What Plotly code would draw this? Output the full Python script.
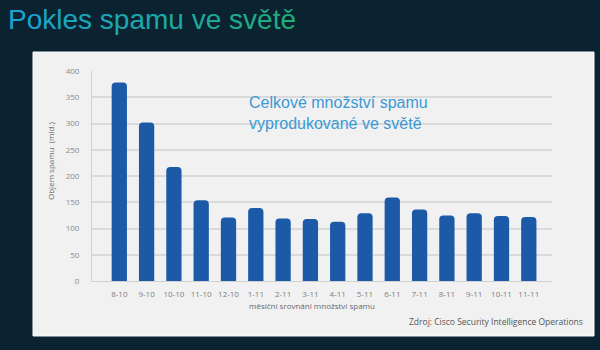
import plotly.graph_objects as go

# Monthly comparison of global spam volume (billions of messages)
months = ["8-10", "9-10", "10-10", "11-10", "12-10", "1-11", "2-11", "3-11",
          "4-11", "5-11", "6-11", "7-11", "8-11", "9-11", "10-11", "11-11"]
spam_volume = [378, 302, 217, 154, 121, 139, 119, 118,
               113, 129, 159, 136, 125, 129, 124, 122]
y_ticks = [0, 50, 100, 150, 200, 250, 300, 350, 400]

title_text = "Pokles spamu ve světě"
note_text = "Celkové množství spamu<br>vyprodukované ve světě"
x_title = "měsíční srovnání množství spamu"
y_title = "Objem spamu  (mld.)"
source_text = "Zdroj: Cisco Security Intelligence Operations"

W, H = 600, 350
L, R, T, B = 92, 48, 71, 69
PW, PH = W - L - R, H - T - B


def px(x):
    return (x - L) / PW


def py(y):
    return (H - B - y) / PH


def gradient_title(text, c0, c1):
    # colour each character along a blue -> green blend
    out = []
    n = max(len(text) - 1, 1)
    for i, ch in enumerate(text):
        t = i / n
        r = round(c0[0] + (c1[0] - c0[0]) * t)
        g = round(c0[1] + (c1[1] - c0[1]) * t)
        b = round(c0[2] + (c1[2] - c0[2]) * t)
        out.append(f"<span style='color:rgb({r},{g},{b})'>{ch}</span>")
    return "".join(out)


fig = go.Figure()
fig.add_trace(go.Bar(
    x=list(range(len(months))),
    y=spam_volume,
    marker=dict(color="#1c5aa7", cornerradius=4, line=dict(width=0)),
    width=0.56,
    hoverinfo="skip",
))

fig.update_layout(
    width=W, height=H,
    margin=dict(l=L, r=R, t=T, b=B),
    paper_bgcolor="#0b2330",
    plot_bgcolor="rgba(0,0,0,0)",
    showlegend=False,
    bargap=0.44,
    xaxis=dict(
        range=[-1.0, 15.85],
        tickmode="array",
        tickvals=list(range(len(months))),
        ticktext=months,
        showgrid=False,
        zeroline=False,
        showline=True, linecolor="#d0d0d0", linewidth=1,
        ticks="", ticklabelstandoff=5,
        tickfont=dict(family="Open Sans, DejaVu Sans, sans-serif", size=8, color="#7d7d7d"),
        fixedrange=True,
    ),
    yaxis=dict(
        range=[0, 400],
        tickmode="array",
        tickvals=y_ticks,
        showgrid=True, gridcolor="#dadada", gridwidth=1.5,
        zeroline=False,
        showline=True, linecolor="#d0d0d0", linewidth=1,
        ticks="", ticklabelstandoff=10,
        tickfont=dict(family="Open Sans, DejaVu Sans, sans-serif", size=8, color="#8a8a8a"),
        fixedrange=True,
    ),
    shapes=[
        # light slide panel behind the chart
        dict(type="rect", xref="paper", yref="paper",
             x0=px(33), x1=px(594), y0=py(336), y1=py(52),
             fillcolor="#f1f1f1", line=dict(color="#fafafa", width=1),
             layer="below"),
    ],
    annotations=[
        dict(text=gradient_title(title_text, (26, 163, 210), (34, 172, 122)),
             xref="paper", yref="paper", x=px(6), y=py(19),
             xanchor="left", yanchor="middle", showarrow=False,
             font=dict(family="Liberation Sans Narrow, Arial Narrow, Liberation Sans, sans-serif",
                       size=28)),
        dict(text=note_text, xref="paper", yref="paper", x=px(247), y=py(113),
             xanchor="left", yanchor="middle", align="left", showarrow=False,
             font=dict(family="Liberation Sans, Arial, sans-serif", size=16, color="#3a99d5")),
        dict(text=x_title, xref="paper", yref="paper", x=px(312), y=py(305),
             xanchor="center", yanchor="middle", showarrow=False,
             font=dict(family="Open Sans, DejaVu Sans, sans-serif", size=8, color="#6a6a6a")),
        dict(text=y_title, xref="paper", yref="paper", x=px(50), y=py(161),
             xanchor="center", yanchor="middle", textangle=-90, showarrow=False,
             font=dict(family="Open Sans, DejaVu Sans, sans-serif", size=8, color="#6a6a6a")),
        dict(text=source_text, xref="paper", yref="paper", x=px(585), y=py(321),
             xanchor="right", yanchor="middle", showarrow=False,
             font=dict(family="Open Sans, DejaVu Sans, sans-serif", size=8.5, color="#555555")),
    ],
)

fig.write_html("out.html", config={"displayModeBar": False})
